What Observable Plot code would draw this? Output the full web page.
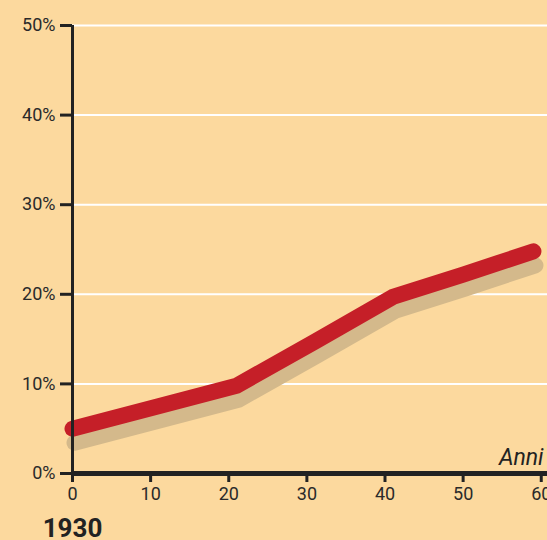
<!DOCTYPE html>
<html>
<head>
<meta charset="utf-8">
<script src="https://cdn.jsdelivr.net/npm/d3@7"></script>
<script src="https://cdn.jsdelivr.net/npm/@observablehq/plot@0.6"></script>
<style>
  html, body { margin: 0; padding: 0; background: #fcd99e; }
  #chart { width: 547px; height: 540px; overflow: hidden; }
</style>
</head>
<body>
<div id="chart"></div>
<script>
// Data (years since 1930, percent)
const years = [0, 11, 21, 31, 41, 50, 59];
const values = [5.0, 7.5, 9.8, 14.7, 19.7, 22.2, 24.8];
const yTicks = [0, 10, 20, 30, 40, 50];
const xTicks = [0, 10, 20, 30, 40, 50, 60];
const startLabel = "1930";
const axisLabel = "Anni";

const data = years.map((x, i) => ({x, y: values[i]}));

const fontFam = "Roboto, 'Liberation Sans', sans-serif";

const chart = Plot.plot({
  width: 547,
  height: 540,
  marginLeft: 72,
  marginRight: 0,
  marginTop: 25,
  marginBottom: 67,
  style: {background: "#fcd99e", fontFamily: fontFam, color: "#2a2a2a"},
  x: {domain: [0, 60.8], axis: null},
  y: {domain: [0, 50], axis: null},
  marks: [
    Plot.gridY(yTicks.slice(1), {stroke: "white", strokeOpacity: 1, strokeWidth: 2}),
    Plot.axisY(yTicks, {tickSize: 12, tickFormat: () => "", strokeWidth: 3, stroke: "#222", label: null}),
    Plot.axisX(xTicks, {tickSize: 9, tickFormat: () => "", strokeWidth: 3, stroke: "#222", label: null}),
    Plot.text(yTicks, {x: 0, y: d => d, text: d => d + "%", textAnchor: "end", dx: -17, fontSize: 18, fill: "#2a2a2a"}),
    Plot.text(xTicks, {x: d => d, y: 0, text: d => String(d), dy: 21, fontSize: 18, fill: "#2a2a2a"}),
    Plot.lineY(data, {x: "x", y: "y", stroke: "#d4b98b", strokeWidth: 16, strokeLinecap: "round", strokeLinejoin: "round", dx: 2, dy: 14}),
    Plot.lineY(data, {x: "x", y: "y", stroke: "#c51f28", strokeWidth: 16, strokeLinecap: "round", strokeLinejoin: "round"}),
    Plot.ruleX([0], {y1: 0, y2: 50, stroke: "#222", strokeWidth: 3}),
    Plot.ruleY([0], {stroke: "#222", strokeWidth: 5}),
    Plot.text([axisLabel], {x: 60.8, y: 0, text: d => d, textAnchor: "end", dx: -4, dy: -16, fontSize: 23, fontStyle: "italic", fill: "#222"}),
    Plot.text([startLabel], {x: 0, y: 0, text: d => d, dy: 55, fontSize: 26, fontWeight: "bold", fill: "#222"})
  ]
});
document.getElementById("chart").appendChild(chart);
</script>
</body>
</html>
